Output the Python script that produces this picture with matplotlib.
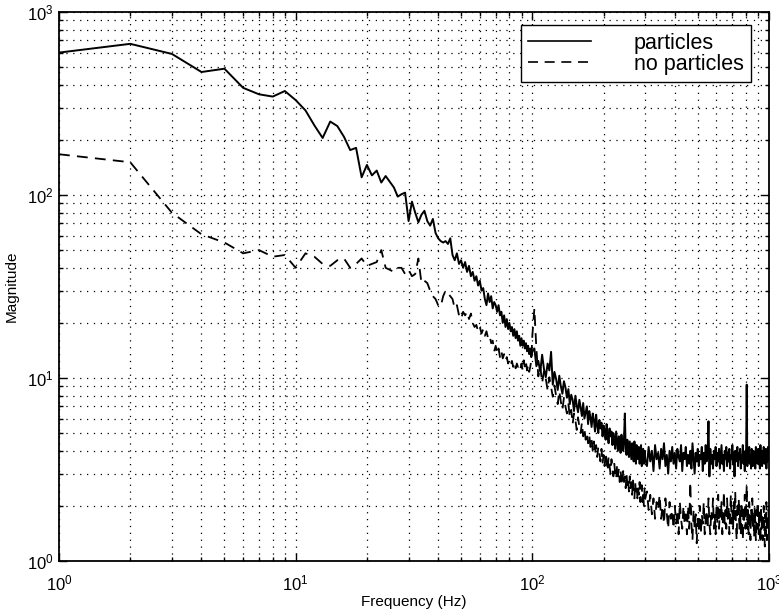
import numpy as np
import matplotlib
matplotlib.use("Agg")
import matplotlib.pyplot as plt

plt.rcParams['font.family'] = ['Liberation Sans', 'DejaVu Sans']
plt.rcParams['mathtext.default'] = 'regular'

# frequency grids (Hz)
freq_lo = np.arange(1, 101, 1)
freq_mid = np.arange(102, 301, 2)
freq_hi = np.arange(305, 1001, 5)

# "particles" magnitude
particles_lo = [600, 670, 590, 470, 490, 385, 355, 345, 370, 330,
                290, 240, 205, 252, 238, 208, 176, 181, 125, 146,
                128, 136, 117, 127, 118, 110, 98, 101, 103, 72,
                92, 80, 71, 78, 82, 72, 68, 74, 62, 58,
                56, 55, 56, 54, 58, 47, 44, 48, 42, 44,
                40, 43, 38, 41, 36, 38, 34, 36, 32, 34,
                30, 31, 27, 25, 29, 26, 28, 24, 26, 25,
                23, 25, 22, 23, 20, 22, 19, 21, 18.5, 20,
                18, 19, 17, 18.5, 16.5, 18, 16, 17, 15, 16.5,
                15, 16, 14.5, 15.5, 14, 15, 13.5, 14.5, 13, 14]
particles_mid = [14.5, 11.6, 12.4, 10.8, 13.4, 11.2, 10.1, 12.0, 11.0, 13.9,
                 9.2, 10.8, 9.9, 8.6, 10.3, 9.0, 8.2, 9.6, 8.9, 7.8,
                 8.7, 7.2, 8.1, 7.6, 6.6, 8.0, 7.1, 6.5, 7.6, 6.9,
                 6.2, 7.3, 6.0, 6.5, 7.0, 5.6, 6.6, 6.1, 5.4, 6.4,
                 5.9, 5.1, 6.3, 5.5, 5.0, 5.9, 5.3, 5.7, 4.8, 5.5,
                 5.2, 4.6, 5.6, 4.9, 4.4, 5.3, 4.8, 5.1, 4.3, 5.0,
                 4.6, 4.1, 5.1, 4.5, 4.0, 4.8, 4.4, 3.9, 4.9, 4.3,
                 4.0, 4.7, 6.4, 4.1, 3.8, 4.6, 4.2, 3.7, 4.5, 4.0,
                 3.6, 4.4, 4.0, 3.5, 4.5, 3.8, 3.4, 4.3, 3.9, 3.6,
                 4.2, 3.4, 3.9, 4.3, 3.3, 3.8, 4.1, 3.4, 4.0, 3.6]
particles_hi = [3.3, 4.2, 3.5, 4.0, 3.1, 4.3, 3.6, 3.9, 3.2, 4.1,
                3.6, 4.4, 3.3, 3.8, 3.0, 4.0, 3.5, 4.2, 3.4, 3.9,
                3.2, 4.1, 3.7, 3.5, 4.3, 3.1, 3.9, 3.6, 4.2, 3.3,
                3.8, 3.4, 4.0, 3.2, 4.4, 3.6, 3.0, 3.9, 3.5, 4.1,
                3.3, 3.8, 3.6, 4.2, 3.1, 3.9, 3.4, 4.3, 3.5, 3.7,
                5.8, 2.9, 4.1, 3.4, 3.8, 3.2, 4.0, 3.6, 4.2, 3.3,
                3.9, 3.5, 4.1, 3.2, 3.7, 4.3, 3.4, 3.8, 3.1, 4.0,
                3.6, 4.2, 3.3, 3.9, 3.5, 4.1, 3.2, 3.8, 3.6, 4.3,
                3.4, 3.9, 2.9, 4.0, 3.5, 3.7, 4.2, 3.3, 3.9, 3.6,
                4.1, 3.2, 3.8, 3.5, 4.3, 3.4, 3.7, 3.1, 4.0, 3.6,
                9.2, 3.3, 3.9, 3.5, 4.2, 3.4, 3.8, 3.2, 4.1, 3.6,
                3.3, 4.0, 3.5, 3.9, 3.2, 4.2, 3.6, 3.8, 3.4, 4.1,
                3.5, 3.9, 3.2, 4.3, 3.6, 3.8, 3.3, 4.0, 3.5, 4.2,
                3.4, 3.8, 3.6, 4.1, 3.2, 3.9, 3.5, 4.2, 3.6, 3.8]

# "no particles" magnitude
noparticles_lo = [167, 151, 80, 61, 55, 48, 50, 46, 47, 40,
                  48, 46, 42, 41, 44, 45, 40, 42, 45, 41,
                  42, 43, 50, 40, 39, 38, 40, 40, 37, 39,
                  36, 37, 45, 33, 34, 33, 30, 28, 27, 25,
                  24.5, 28, 30, 29, 28, 27, 24, 25, 22, 21,
                  23, 22, 23, 21, 22.5, 20, 19, 19.5, 18, 19,
                  17.5, 18.5, 17, 18, 16.5, 17, 15.5, 16, 14, 15,
                  13.5, 14.5, 13, 14, 12.8, 13.5, 12.5, 13, 12, 12.5,
                  11.8, 12.4, 11.5, 12.2, 11.3, 12, 11.5, 11.8, 11.2, 12,
                  11, 12.5, 11.4, 12.2, 11, 11.8, 10.8, 11.5, 12.5, 17]
noparticles_mid = [24.0, 14.5, 10.2, 11.6, 9.4, 10.9, 9.9, 8.6, 10.1, 8.9,
                   7.9, 9.1, 8.0, 7.2, 8.5, 7.4, 6.7, 7.8, 7.0, 6.4,
                   7.2, 6.1, 6.7, 5.6, 6.4, 5.9, 5.2, 6.1, 5.4, 5.0,
                   5.7, 4.8, 5.3, 4.6, 5.0, 4.4, 4.9, 4.2, 4.6, 4.0,
                   4.5, 3.8, 4.3, 3.7, 4.2, 3.9, 3.5, 4.1, 3.4, 3.8,
                   3.3, 3.9, 3.5, 3.1, 3.7, 3.3, 3.0, 3.6, 3.2, 2.9,
                   3.4, 3.0, 2.8, 3.3, 2.9, 3.2, 2.7, 3.1, 2.8, 2.6,
                   3.1, 2.7, 2.9, 2.5, 3.0, 2.6, 2.8, 2.4, 2.9, 2.5,
                   2.7, 2.3, 2.8, 2.5, 2.2, 2.7, 2.4, 2.6, 2.2, 2.5,
                   2.3, 2.7, 2.1, 2.4, 2.6, 2.1, 2.4, 2.0, 2.5, 2.2]
noparticles_hi = [2.4, 1.9, 2.3, 1.8, 2.2, 1.7, 2.1, 1.9, 2.3, 1.7,
                  2.0, 1.6, 2.2, 1.8, 1.5, 2.1, 1.7, 1.9, 1.5, 2.0,
                  1.6, 1.9, 1.4, 2.1, 1.7, 1.5, 2.0, 1.6, 1.8, 1.4,
                  2.0, 1.5, 2.7, 1.6, 1.3, 1.9, 1.5, 1.8, 1.25, 1.7,
                  1.5, 2.0, 1.4, 1.8, 1.6, 2.1, 1.4, 1.7, 1.9, 1.5,
                  2.2, 1.6, 1.4, 1.9, 1.7, 2.2, 1.5, 1.8, 1.4, 2.0,
                  1.6, 2.3, 1.5, 1.9, 1.7, 2.1, 1.4, 1.8, 2.4, 1.6,
                  1.9, 1.5, 2.2, 1.7, 2.0, 1.4, 1.8, 2.3, 1.6, 1.9,
                  1.5, 2.1, 1.7, 2.4, 1.6, 1.3, 2.0, 1.8, 2.2, 1.5,
                  1.9, 1.4, 2.1, 1.7, 1.3, 2.0, 1.6, 2.3, 1.5, 1.8,
                  2.6, 1.5, 1.9, 1.4, 2.1, 1.7, 1.3, 1.9, 1.6, 2.2,
                  1.5, 1.8, 1.35, 2.0, 1.6, 1.3, 1.9, 1.5, 2.1, 1.6,
                  1.4, 1.9, 1.6, 1.25, 2.0, 1.5, 1.8, 1.3, 1.7, 2.0,
                  1.5, 1.2, 1.8, 1.4, 2.1, 1.3, 1.7, 1.5, 1.9, 1.4]

series_labels = ["particles", "no particles"]

freq = np.concatenate([freq_lo, freq_mid, freq_hi])
particles = np.concatenate([particles_lo, particles_mid, particles_hi])
noparticles = np.concatenate([noparticles_lo, noparticles_mid, noparticles_hi])

fig = plt.figure(figsize=(7.79, 6.11), dpi=100)
ax = fig.add_axes([59 / 779, 50 / 611, 710 / 779, 549 / 611])

ax.loglog(freq, particles, color='black', lw=1.4, label=series_labels[0])
ax.loglog(freq, noparticles, color='black', lw=1.3, dashes=(6, 4),
          label=series_labels[1])

ax.set_xlim(1, 1000)
ax.set_ylim(1, 1000)

ax.grid(True, which='both', color='black', linestyle=(0, (1, 4.5)), lw=0.9)
ax.tick_params(which='both', direction='in', top=True, right=True,
               labelsize=12, width=1.0)
ax.tick_params(axis='x', which='both', pad=9)
ax.tick_params(axis='y', which='both', pad=4)
ax.tick_params(which='major', length=6)
ax.tick_params(which='minor', length=3)
for s in ax.spines.values():
    s.set_linewidth(1.3)

ax.set_xlabel("Frequency (Hz)", fontsize=11, labelpad=1)
ax.set_ylabel("Magnitude", fontsize=11, labelpad=6)

leg = ax.legend(loc='upper right', bbox_to_anchor=(0.975, 0.976),
                fontsize=15.5, frameon=True, fancybox=False,
                edgecolor='black', framealpha=1, handlelength=2.9,
                handletextpad=2.0, borderpad=0.35, labelspacing=0.0,
                borderaxespad=0.0)
leg.get_frame().set_linewidth(1.0)
for line in leg.get_lines():
    line.set_linewidth(1.2)

fig.savefig("out.png", dpi=100)
